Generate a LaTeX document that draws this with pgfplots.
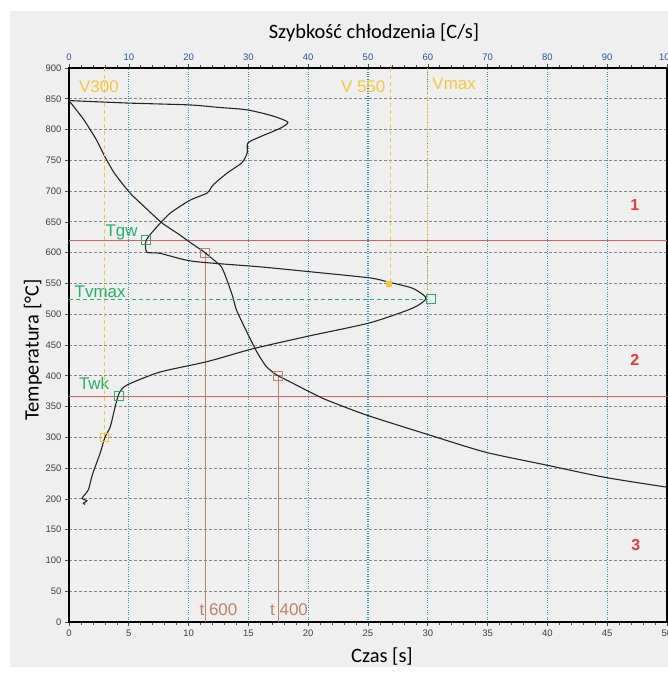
\documentclass[border=0pt]{standalone}
\usepackage{pgfplots}
\pgfplotsset{compat=1.18}
\usepackage{fontspec}
\setmainfont{Carlito}
\newfontfamily\arialfont{Liberation Sans}

\definecolor{panel}{RGB}{239,239,239}
\definecolor{gridblue}{RGB}{40,150,200}
\definecolor{gridgrey}{RGB}{125,135,145}
\definecolor{redline}{RGB}{218,95,95}
\definecolor{brownline}{RGB}{190,130,100}
\definecolor{yel}{RGB}{245,200,60}
\definecolor{grn}{RGB}{40,175,110}
\definecolor{tickblue}{RGB}{40,80,170}
\definecolor{numred}{RGB}{225,60,60}

% czas [s] -> temperatura
\pgfplotstableread{
t T
0 847
1.2 817
2.3 783
3.0 756
3.8 729
5.1 697
6.5 671
7.8 648
9.25 629
10.1 617
11.3 601
12.3 585
12.75 577
13.2 556
13.7 528
14.0 507
14.8 474
15.7 439
16.5 415
17.4 401
18.7 388
20.0 375
21.5 361
24.9 336
30.1 304
34.8 276
39.9 255
44.8 235
50.0 219
}\chlodzenie

% szybkosc chlodzenia [C/s] -> temperatura
\pgfplotstableread{
v T
0.2 847
10 843
20.2 840
25 836
29.8 832
34.1 822
36.6 812
35.3 802
31.9 788
29.9 778
29.8 762
28.9 746
26.4 729
24.1 710
23.1 697
20.2 685
16.9 664
14.7 642
12.9 620
13.0 601
15.2 599
20.7 586
31.9 577
40.3 569
50.3 559
53.5 552
57.5 542
59.7 526
57.5 510
50.3 486
40.3 465
30.8 444
23.1 423
15.2 406
9.7 385
8.4 372
7.7 349
6.9 317
6.0 300
5.2 274
4.0 242
3.6 228
3.2 214
2.2 201
3.0 197
2.4 193
2.7 191
}\szybkosc

\begin{document}
\begin{tikzpicture}
\fill[white] (-69bp,-51bp) rectangle (599bp,622bp);
\fill[panel] (-59bp,-45bp) rectangle (599bp,611bp);

\begin{axis}[
    at={(0,0)}, anchor=south west,
    scale only axis, width=598bp, height=554bp,
    xmin=0, xmax=50, ymin=0, ymax=900,
    xtick={0,5,...,50}, ytick={0,50,...,900},
    minor x tick num=4,
    xtick pos=bottom, ytick pos=left,
    tick align=outside,
    major tick length=4bp, minor tick length=3bp,
    grid=major,
    major x grid style={gridblue, dotted, line width=1.1bp},
    major y grid style={gridgrey, dash pattern=on 3bp off 2bp, line width=0.8bp},
    axis line style={black, line width=1.6bp},
    tick style={black!70, line width=0.6bp},
    tick label style={font=\arialfont\fontsize{9.5}{10}\selectfont, text=black!75},
    /pgf/number format/assume math mode=true,
]
\addplot[redline, line width=1.1bp] coordinates {(0,620) (50,620)};
\addplot[redline, line width=1.1bp] coordinates {(0,367) (50,367)};
\addplot[brownline, line width=1bp] coordinates {(11.4,600) (11.4,0)};
\addplot[brownline, line width=1bp] coordinates {(17.5,400) (17.5,0)};
\addplot[black!85, line width=1.1bp, smooth, tension=0.4] table[x=t, y=T] {\chlodzenie};
\addplot[brownline, only marks, mark=square, mark size=4.5bp, line width=0.9bp] coordinates {(11.4,600) (17.5,400)};

\node[font=\arialfont\fontsize{17}{17}\selectfont, text=brownline] at (axis cs:12.5,20) {t 600};
\node[font=\arialfont\fontsize{17}{17}\selectfont, text=brownline] at (axis cs:18.4,20) {t 400};
\node[font=\arialfont\fontsize{17}{17}\selectfont, text=grn] at (axis cs:4.4,633) {Tgw};
\node[font=\arialfont\fontsize{17}{17}\selectfont, text=grn] at (axis cs:2.6,537) {Tvmax};
\node[font=\arialfont\fontsize{17}{17}\selectfont, text=grn] at (axis cs:2.1,388) {Twk};
\node[font=\arialfont\bfseries\fontsize{16}{16}\selectfont, text=numred] at (axis cs:47.3,677) {1};
\node[font=\arialfont\bfseries\fontsize{16}{16}\selectfont, text=numred] at (axis cs:47.3,426) {2};
\node[font=\arialfont\bfseries\fontsize{16}{16}\selectfont, text=numred] at (axis cs:47.4,125) {3};
\end{axis}

\begin{axis}[
    at={(0,0)}, anchor=south west,
    scale only axis, width=598bp, height=554bp,
    xmin=0, xmax=100, ymin=0, ymax=900,
    axis x line*=top, axis y line=none,
    xtick={0,10,...,100}, minor x tick num=4,
    tick align=outside,
    major tick length=4bp, minor tick length=3bp,
    axis line style={black, line width=1.6bp},
    tick style={black!70, line width=0.6bp},
    tick label style={font=\arialfont\fontsize{9.5}{10}\selectfont, text=tickblue},
    /pgf/number format/assume math mode=true,
]
\addplot[yel, dash pattern=on 4bp off 3bp, line width=1.1bp] coordinates {(5.9,900) (5.9,300)};
\addplot[yel, dash pattern=on 4bp off 3bp, line width=1.1bp] coordinates {(53.7,900) (53.7,550)};
\addplot[yel, dash pattern=on 4bp off 3bp, line width=1.1bp] coordinates {(59.9,900) (59.9,525)};
\addplot[grn, dash pattern=on 4bp off 3bp, line width=1bp] coordinates {(0,524) (60,524)};
\addplot[black!85, line width=1.1bp, smooth, tension=0.4] table[x=v, y=T] {\szybkosc};
\addplot[grn, only marks, mark=square, mark size=4.5bp, line width=0.9bp] coordinates {(12.9,620) (60.5,525) (8.4,367)};
\addplot[yel, only marks, mark=square, mark size=4bp, line width=1bp] coordinates {(6.0,300)};
\addplot[yel, only marks, mark=square*, mark size=2.5bp] coordinates {(53.5,550)};

\node[font=\arialfont\fontsize{17}{17}\selectfont, text=yel] at (axis cs:5.0,869) {V300};
\node[font=\arialfont\fontsize{17}{17}\selectfont, text=yel] at (axis cs:49.2,869) {V 550};
\node[font=\arialfont\fontsize{17}{17}\selectfont, text=yel] at (axis cs:64.4,875) {Vmax};
\end{axis}

\node[font=\fontsize{20.5}{21}\selectfont] at (305bp,589bp) {Szybkość chłodzenia [C/s]};
\node[font=\fontsize{20.5}{21}\selectfont] at (313bp,-35bp) {Czas [s]};
\node[font=\fontsize{20.5}{21}\selectfont, rotate=90] at (-36bp,272bp) {Temperatura [°C]};

\pgfresetboundingbox
\path (-69bp,-51bp) rectangle (599bp,622bp);
\end{tikzpicture}
\end{document}
